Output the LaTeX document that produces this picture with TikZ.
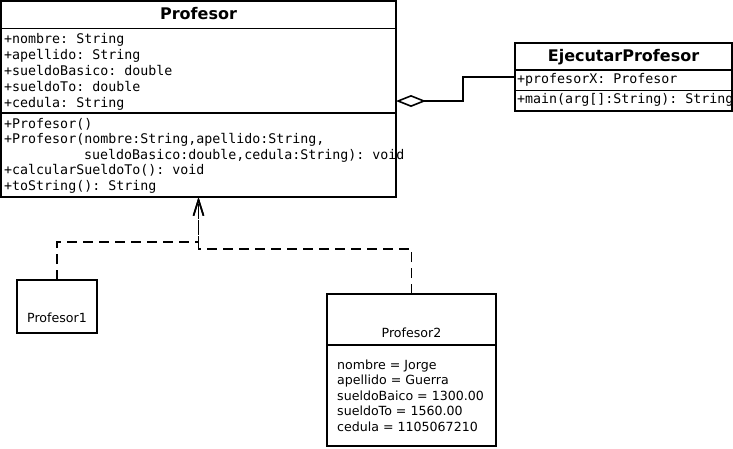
\documentclass[tikz,border=0pt]{standalone}
\usepackage{fontspec}
\setmainfont{DejaVu Sans}
\setmonofont{DejaVu Sans Mono}
\usetikzlibrary{positioning, arrows.meta, calc}

\begin{document}
\begin{tikzpicture}[x=1pt, y=-1pt,
    box/.style={rectangle, draw, line width=1.6pt, anchor=north west,
                inner sep=0pt, outer sep=0pt},
    sep/.style={line width=1.6pt},
    title/.style={font=\fontsize{16}{19}\selectfont\bfseries, anchor=base, inner sep=0pt},
    member/.style={font=\fontsize{13.3}{16}\selectfont\ttfamily, anchor=base west, inner sep=0pt},
    obj/.style={font=\fontsize{12.6}{15}\selectfont, anchor=base west, inner sep=0pt},
    agg/.style={-{Diamond[open, length=30pt, width=12pt]}, line width=1.6pt},
    real/.style={-{Straight Barb[length=16pt, width=10pt]}, line width=1.6pt,
                 dash pattern=on 10pt off 6pt},
  ]
    \useasboundingbox (0,0) rectangle (733,448);

    % Class Profesor
    \node[box, minimum width=395, minimum height=196] (prof) at (1,1) {};
    \draw[sep] ($(prof.north west)+(0,27.5)$) -- ($(prof.north east)+(0,27.5)$);
    \draw[sep] ($(prof.north west)+(0,112)$) -- ($(prof.north east)+(0,112)$);
    \node[title] (profT) at (198.5,19.5) {Profesor};
    \foreach \txt [count=\i] in {+nombre: String, +apellido: String,
        +sueldoBasico: double, +sueldoTo: double, +cedula: String}
      \node[member] (pa\i) at (4, 27+16*\i) {\txt};
    \node[member] (pm1) at (4,128) {+Profesor()};
    \node[member] (pm2) at (4,143.5) {+Profesor(nombre:String,apellido:String,};
    \node[member] (pm3) at (84,159) {sueldoBasico:double,cedula:String): void};
    \node[member] (pm4) at (4,174.5) {+calcularSueldoTo(): void};
    \node[member] (pm5) at (4,190) {+toString(): String};

    % Class EjecutarProfesor
    \node[box, minimum width=217, minimum height=68] (ejec) at (515,43) {};
    \draw[sep] ($(ejec.north west)+(0,27)$) -- ($(ejec.north east)+(0,27)$);
    \draw[sep] ($(ejec.north west)+(0,47.5)$) -- ($(ejec.north east)+(0,47.5)$);
    \node[title] (ejecT) at (623.5,61.5) {EjecutarProfesor};
    \node[member] (ea1) at (517,83) {+profesorX: Profesor};
    \node[member] (em1) at (517,103.5) {+main(arg[]:String): String};

    % Objects
    \node[box, minimum width=80, minimum height=53] (prof1) at (17,280) {};
    \node[obj, anchor=base] (prof1T) at (57,322) {Profesor1};

    \node[box, minimum width=169, minimum height=152] (prof2) at (327,294) {};
    \draw[sep] ($(prof2.north west)+(0,51)$) -- ($(prof2.north east)+(0,51)$);
    \node[obj, anchor=base] (prof2T) at (411.5,337) {Profesor2};
    \foreach \txt [count=\i] in {nombre = Jorge, apellido = Guerra,
        sueldoBaico = 1300.00, sueldoTo = 1560.00, cedula = 1105067210}
      \node[obj] (oa\i) at (337, 353.5+15.5*\i) {\txt};

    % Aggregation
    \draw[agg] (ejec.west) -- ++(-52,0) |- ($(prof.east)+(0,2)$);

    % Instances
    \draw[real] (prof1.north) -- ++(0,-38) -| (prof.south);
    \draw[real] (prof2.north) -- ++(0,-45) -| (prof.south);

  \end{tikzpicture}
\end{document}
